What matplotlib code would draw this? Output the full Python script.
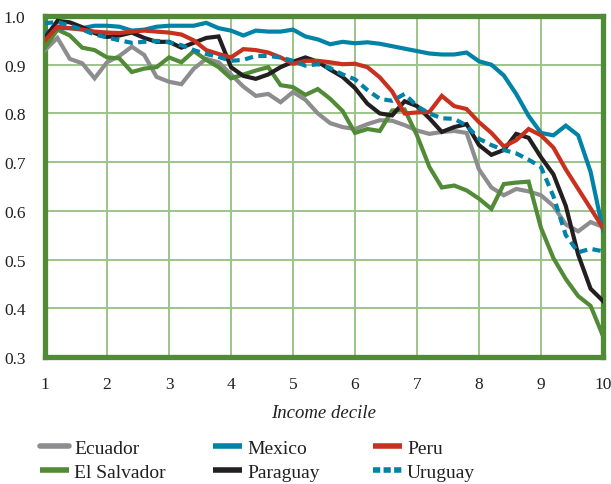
import numpy as np
import matplotlib
matplotlib.use("Agg")
import matplotlib.pyplot as plt
from matplotlib.lines import Line2D

plt.rcParams['font.family'] = ['Liberation Serif', 'DejaVu Serif']

deciles = np.round(np.arange(1.0, 10.01, 0.2), 1)

ecuador = [0.930, 0.955, 0.912, 0.903, 0.872, 0.905, 0.918, 0.937, 0.920, 0.875,
           0.865, 0.860, 0.892, 0.912, 0.905, 0.880, 0.855, 0.836, 0.840, 0.823,
           0.844, 0.828, 0.800, 0.780, 0.772, 0.768, 0.778, 0.786, 0.785, 0.776,
           0.765, 0.758, 0.762, 0.764, 0.760, 0.685, 0.648, 0.632, 0.645, 0.640,
           0.632, 0.610, 0.572, 0.558, 0.577, 0.567]
el_salvador = [0.935, 0.972, 0.960, 0.935, 0.930, 0.915, 0.913, 0.885, 0.892, 0.895,
               0.915, 0.905, 0.928, 0.910, 0.895, 0.872, 0.880, 0.888, 0.895, 0.858,
               0.854, 0.838, 0.850, 0.830, 0.805, 0.760, 0.768, 0.764, 0.806, 0.808,
               0.755, 0.690, 0.648, 0.652, 0.642, 0.625, 0.604, 0.655, 0.658, 0.660,
               0.565, 0.503, 0.460, 0.425, 0.405, 0.343]
mexico = [0.965, 0.975, 0.975, 0.975, 0.980, 0.980, 0.978, 0.970, 0.972, 0.978,
          0.980, 0.980, 0.980, 0.986, 0.975, 0.970, 0.960, 0.970, 0.968, 0.968,
          0.972, 0.958, 0.952, 0.942, 0.947, 0.944, 0.946, 0.943, 0.938, 0.933,
          0.928, 0.923, 0.921, 0.921, 0.925, 0.907, 0.900, 0.878, 0.840, 0.795,
          0.760, 0.755, 0.775, 0.755, 0.680, 0.560]
paraguay = [0.955, 0.990, 0.987, 0.977, 0.965, 0.957, 0.960, 0.966, 0.955, 0.947,
            0.947, 0.935, 0.945, 0.955, 0.958, 0.895, 0.877, 0.871, 0.880, 0.895,
            0.906, 0.915, 0.906, 0.890, 0.875, 0.852, 0.820, 0.800, 0.796, 0.825,
            0.815, 0.790, 0.762, 0.772, 0.778, 0.735, 0.715, 0.725, 0.758, 0.750,
            0.710, 0.675, 0.610, 0.510, 0.440, 0.415]
peru = [0.950, 0.978, 0.975, 0.972, 0.968, 0.966, 0.965, 0.968, 0.970, 0.968,
        0.966, 0.962, 0.950, 0.930, 0.922, 0.915, 0.932, 0.930, 0.925, 0.915,
        0.902, 0.908, 0.908, 0.905, 0.901, 0.902, 0.895, 0.874, 0.845, 0.800,
        0.802, 0.803, 0.836, 0.815, 0.809, 0.782, 0.760, 0.732, 0.745, 0.768,
        0.755, 0.730, 0.685, 0.645, 0.605, 0.565]
uruguay = [0.985, 0.988, 0.980, 0.972, 0.962, 0.956, 0.950, 0.945, 0.947, 0.949,
           0.946, 0.940, 0.930, 0.922, 0.916, 0.908, 0.910, 0.918, 0.918, 0.915,
           0.908, 0.898, 0.901, 0.893, 0.880, 0.870, 0.848, 0.830, 0.826, 0.840,
           0.815, 0.800, 0.790, 0.789, 0.775, 0.748, 0.735, 0.725, 0.718, 0.705,
           0.690, 0.630, 0.550, 0.515, 0.522, 0.517]

GREEN = '#528b37'
GRID = '#9cc489'
TEAL = '#0083a6'
DASH = (0, (2.0, 1.3))
series = [
    ("Ecuador", ecuador, '#8d8d8f', '-'),
    ("El Salvador", el_salvador, '#528b37', '-'),
    ("Mexico", mexico, TEAL, '-'),
    ("Paraguay", paraguay, '#231f20', '-'),
    ("Peru", peru, '#c9311f', '-'),
    ("Uruguay", uruguay, TEAL, '--'),
]

fig = plt.figure(figsize=(6.11, 4.85), dpi=100)
ax = fig.add_axes([45/611, 1 - 358/485, 558/611, 341/485])

keys = []
for name, vals, col, ls in series:
    style = DASH if ls == '--' else '-'
    ax.plot(deciles, vals, color=col, lw=3.0, linestyle=style,
            dash_capstyle='butt', solid_joinstyle='miter', zorder=3)
    keys.append(Line2D([], [], color=col, lw=4.0, linestyle=(0, (1.3, 0.6)) if ls == '--' else '-',
                       solid_capstyle='round' if name == "Ecuador" else 'butt',
                       dash_capstyle='butt', label=name))

ax.set_xlim(1, 10)
ax.set_ylim(0.3, 1.0)
ax.set_xticks(range(1, 11))
ax.set_yticks(np.round(np.arange(0.3, 1.01, 0.1), 1))
ax.set_yticklabels([f"{v:.1f}" for v in np.arange(0.3, 1.01, 0.1)])
ax.grid(True, color=GRID, lw=1.4, zorder=1)
ax.tick_params(length=0, labelsize=12.5, colors='#231f20')
ax.tick_params(axis='x', pad=14)
ax.tick_params(axis='y', pad=14)
for sp in ax.spines.values():
    sp.set_color(GREEN)
    sp.set_linewidth(3.8)
ax.set_xlabel("Income decile", fontsize=13.5, style='italic', labelpad=8, color='#231f20')

# legend: three columns of two entries each
col_x = [40, 213, 373]
for i, x0 in enumerate(col_x):
    leg = fig.legend(handles=keys[2*i:2*i+2], loc='upper left',
                     bbox_to_anchor=(x0/611, 1 - 440/485), ncol=1, frameon=False,
                     fontsize=14, handlelength=1.5, handletextpad=0.25,
                     labelspacing=0.33, borderaxespad=0, borderpad=0)
    for t in leg.get_texts():
        t.set_color('#231f20')

fig.savefig("out.png", dpi=100)
